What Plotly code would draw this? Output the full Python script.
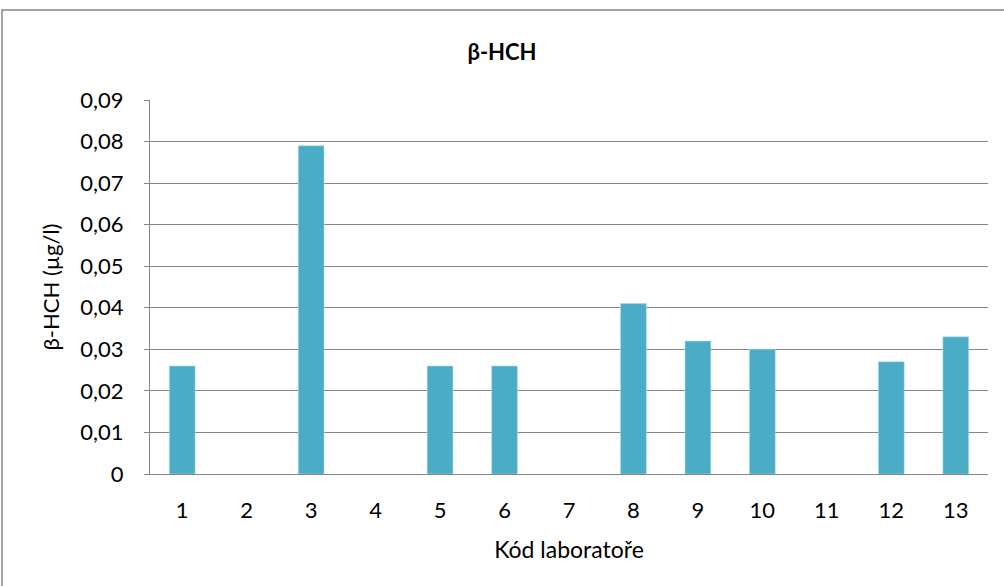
import plotly.graph_objects as go

labs = [str(i) for i in range(1, 14)]
vals = [0.026, None, 0.079, None, 0.026, 0.026, None, 0.041, 0.032, 0.030, None, 0.027, 0.033]

fnt = 'Lato, Open Sans, sans-serif'
W, H = 1004, 586
L, R, T, B = 150, 16, 100, 112
pw, ph = W - L - R, H - T - B

fig = go.Figure(go.Bar(x=labs, y=vals, marker=dict(color='#4BACC6', line=dict(color='#B7DDE8', width=0.5))))

fig.update_layout(
    width=W, height=H,
    margin=dict(l=L, r=R, t=T, b=B, autoexpand=False),
    paper_bgcolor='white', plot_bgcolor='white',
    separators=', ',
    bargap=0.6,
    showlegend=False,
    font=dict(family=fnt, size=22, color='black'),
    title=dict(text='<b>β-HCH</b>', x=0.5, xanchor='center', y=1 - 52 / H, yanchor='middle',
               font=dict(family=fnt, size=22, color='black')),
    xaxis=dict(type='category', showgrid=False, showline=True, linecolor='#868686', linewidth=1,
               ticks='', ticklabelstandoff=17,
               title=dict(text='Kód laboratoře', standoff=19, font=dict(size=23))),
    yaxis=dict(range=[0, 0.09], dtick=0.01, tickformat='.2~f', showgrid=True, gridcolor='#868686',
               gridwidth=1, showline=True, linecolor='#868686', linewidth=1, zeroline=False,
               ticks='outside', ticklen=5, tickcolor='#868686', ticklabelstandoff=16,
               title=dict(text='β-HCH (µg/l)', standoff=14, font=dict(size=22))),
)

# outer chart border
fig.add_shape(type='rect', xref='paper', yref='paper',
              x0=(2 - L) / pw, x1=(W + 5 - L) / pw,
              y0=-(B + 5) / ph, y1=1 + (T - 10) / ph,
              line=dict(color='#868686', width=1.5), fillcolor='rgba(0,0,0,0)', layer='below')

fig.write_html('out.html', config={'displayModeBar': False},
               post_script="document.body.style.margin='0';")
